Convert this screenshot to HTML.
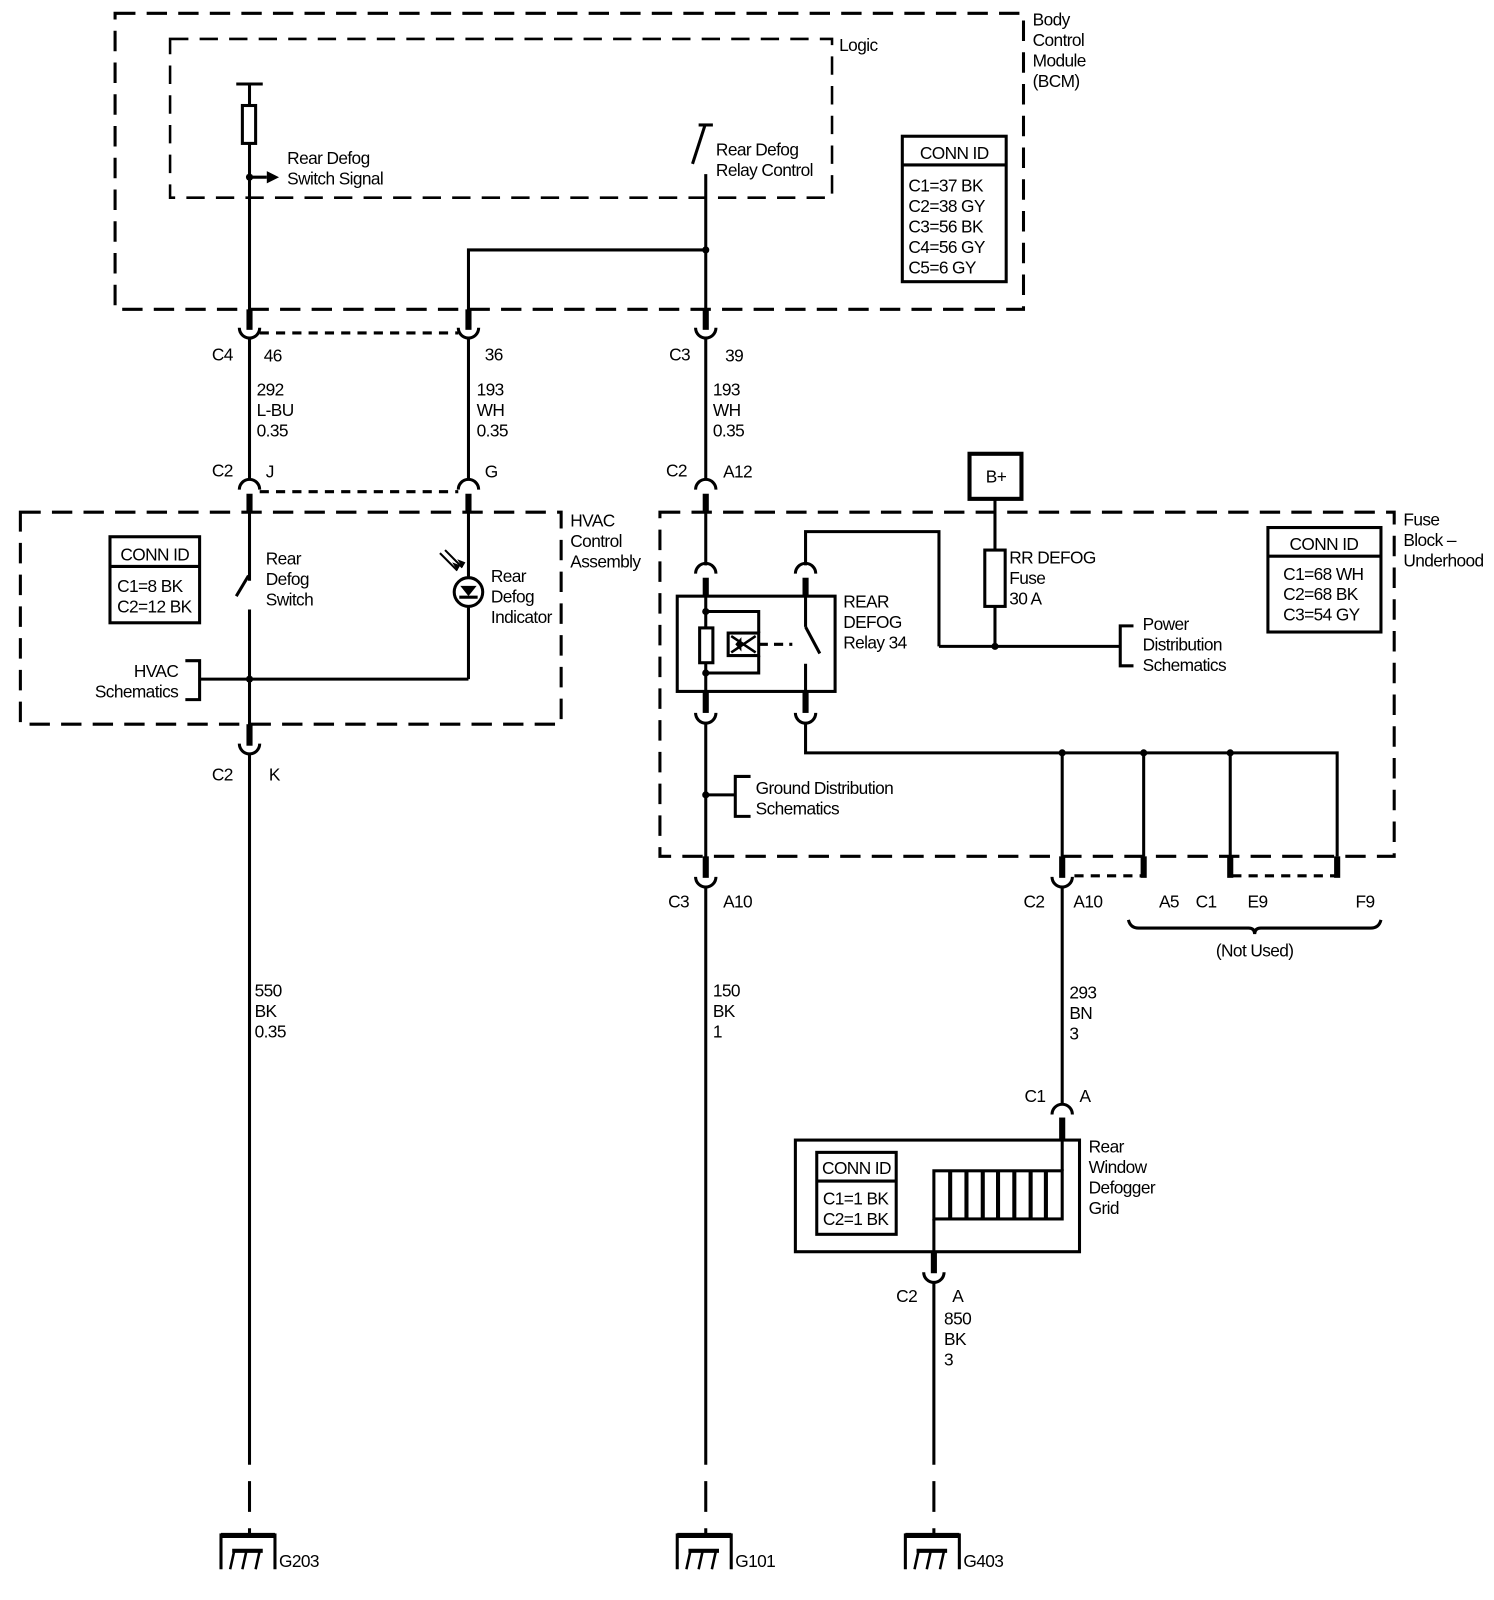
<!DOCTYPE html>
<html><head><meta charset="utf-8"><style>
html,body{margin:0;padding:0;background:#fff;}
svg{display:block;}
text{font-family:"Liberation Sans",sans-serif;font-size:17px;fill:#000;letter-spacing:-0.6px;}
</style></head><body>
<svg width="1494" height="1600" viewBox="0 0 1467 1562" preserveAspectRatio="none" xmlns="http://www.w3.org/2000/svg">
<g fill="none" stroke="#000" stroke-width="3">
<!-- dashed boxes -->
<rect x="113" y="13" width="892" height="289" stroke-dasharray="20,11"/>
<rect x="167" y="38" width="650" height="155" stroke-width="2.5" stroke-dasharray="18,11"/>
<rect x="20" y="500" width="531" height="207" stroke-dasharray="20,11"/>
<rect x="648" y="500" width="721" height="336" stroke-dasharray="20,11"/>
<!-- BCM conn id -->
<rect x="886" y="133" width="102" height="142"/>
<line x1="886" y1="161" x2="988" y2="161"/>
<!-- left signal wire -->
<line x1="232" y1="82" x2="258" y2="82"/>
<line x1="245" y1="82" x2="245" y2="103"/>
<rect x="238" y="103" width="13" height="37"/>
<line x1="245" y1="140" x2="245" y2="306"/>
<line x1="245" y1="173" x2="262" y2="173"/>
<!-- relay control -->
<line x1="686" y1="122" x2="700" y2="122"/>
<line x1="680" y1="160" x2="692" y2="123"/>
<line x1="693" y1="170" x2="693" y2="306"/>
<polyline points="693,244 460,244 460,306"/>
<!-- heavy stubs into top connectors -->
<line x1="245" y1="302" x2="245" y2="322" stroke-width="6"/>
<line x1="460" y1="302" x2="460" y2="322" stroke-width="6"/>
<line x1="693" y1="302" x2="693" y2="322" stroke-width="6"/>
<path d="M235,320 A10,10 0 0 0 255,320"/>
<path d="M450,320 A10,10 0 0 0 470,320"/>
<path d="M683,320 A10,10 0 0 0 703,320"/>
<line x1="255" y1="325" x2="450" y2="325" stroke-dasharray="9,7"/>
<line x1="245" y1="330" x2="245" y2="468"/>
<line x1="460" y1="330" x2="460" y2="468"/>
<line x1="693" y1="330" x2="693" y2="468"/>
<!-- C2 caps -->
<path d="M235,478 A10,10 0 0 1 255,478"/>
<path d="M450,478 A10,10 0 0 1 470,478"/>
<path d="M683,478 A10,10 0 0 1 703,478"/>
<line x1="255" y1="480" x2="450" y2="480" stroke-dasharray="9,7"/>
<line x1="245" y1="482" x2="245" y2="500" stroke-width="6"/>
<line x1="460" y1="482" x2="460" y2="500" stroke-width="6"/>
<line x1="693" y1="482" x2="693" y2="500" stroke-width="6"/>
<!-- HVAC -->
<rect x="108" y="524" width="88" height="84"/>
<line x1="108" y1="553" x2="196" y2="553"/>
<line x1="245" y1="500" x2="245" y2="567"/>
<line x1="232" y1="582" x2="244" y2="562"/>
<line x1="245" y1="595" x2="245" y2="712"/>
<line x1="196" y1="663" x2="460" y2="663"/>
<polyline points="182,645 196,645 196,683 182,683"/>
<line x1="460" y1="500" x2="460" y2="663"/>
<circle cx="460" cy="578" r="14" fill="#fff"/>
<line x1="451" y1="583" x2="469" y2="583"/>
<line x1="432" y1="540" x2="449" y2="557" stroke-width="2"/>
<line x1="437" y1="537" x2="454" y2="554" stroke-width="2"/>
<line x1="245" y1="707" x2="245" y2="728" stroke-width="6"/>
<path d="M235,726 A10,10 0 0 0 255,726"/>
<line x1="245" y1="736" x2="245" y2="1400"/>
<line x1="245" y1="1400" x2="245" y2="1497" stroke-dasharray="30,16"/>
<!-- fuse block -->
<rect x="1245" y="515" width="111" height="102"/>
<line x1="1245" y1="543" x2="1356" y2="543"/>
<rect x="952" y="443" width="51" height="44" stroke-width="4"/>
<line x1="977" y1="487" x2="977" y2="537"/>
<rect x="967" y="537" width="20" height="55"/>
<line x1="977" y1="592" x2="977" y2="631"/>
<line x1="922" y1="631" x2="1100" y2="631"/>
<polyline points="1113,611 1100,611 1100,650 1113,650"/>
<polyline points="922,631 922,519 791,519 791,552"/>
<line x1="693" y1="500" x2="693" y2="552"/>
<path d="M683,560 A10,10 0 0 1 703,560"/>
<path d="M781,560 A10,10 0 0 1 801,560"/>
<line x1="693" y1="564" x2="693" y2="582" stroke-width="6"/>
<line x1="791" y1="564" x2="791" y2="582" stroke-width="6"/>
<rect x="665" y="582" width="155" height="93"/>
<line x1="693" y1="582" x2="693" y2="675"/>
<rect x="687" y="613" width="13" height="34" fill="#fff"/>
<polyline points="693,597 745,597 745,618"/>
<polyline points="693,657 745,657 745,640"/>
<rect x="715" y="618" width="30" height="22"/>
<line x1="718" y1="621" x2="742" y2="637" stroke-width="2.5"/>
<line x1="718" y1="637" x2="742" y2="621" stroke-width="2.5"/>
<line x1="745" y1="629" x2="778" y2="629" stroke-dasharray="9,6"/>
<line x1="791" y1="582" x2="791" y2="612"/>
<line x1="791" y1="612" x2="805" y2="638"/>
<line x1="791" y1="648" x2="791" y2="675"/>
<line x1="693" y1="675" x2="693" y2="696" stroke-width="6"/>
<line x1="791" y1="675" x2="791" y2="696" stroke-width="6"/>
<path d="M683,696 A10,10 0 0 0 703,696"/>
<path d="M781,696 A10,10 0 0 0 801,696"/>
<line x1="693" y1="706" x2="693" y2="855"/>
<polyline points="791,706 791,735 1313,735 1313,836"/>
<line x1="693" y1="776" x2="722" y2="776"/>
<polyline points="737,758 722,758 722,797 737,797"/>
<line x1="1043" y1="735" x2="1043" y2="836"/>
<line x1="1123" y1="735" x2="1123" y2="836"/>
<line x1="1208" y1="735" x2="1208" y2="836"/>
<line x1="693" y1="836" x2="693" y2="857" stroke-width="6"/>
<line x1="1043" y1="836" x2="1043" y2="857" stroke-width="6"/>
<line x1="1123" y1="836" x2="1123" y2="857" stroke-width="6"/>
<line x1="1208" y1="836" x2="1208" y2="857" stroke-width="6"/>
<line x1="1313" y1="836" x2="1313" y2="857" stroke-width="6"/>
<path d="M683,856 A10,10 0 0 0 703,856"/>
<path d="M1033,856 A10,10 0 0 0 1053,856"/>
<line x1="1055" y1="855" x2="1123" y2="855" stroke-dasharray="9,7"/>
<line x1="1210" y1="855" x2="1313" y2="855" stroke-dasharray="9,7"/>
<line x1="693" y1="866" x2="693" y2="1400"/>
<line x1="693" y1="1400" x2="693" y2="1497" stroke-dasharray="30,16"/>
<line x1="1043" y1="866" x2="1043" y2="1078"/>
<path d="M1108,898 Q1110,906 1118,906 L1226,906 Q1232,906 1232,912 Q1232,906 1238,906 L1346,906 Q1354,906 1356,898"/>
<!-- defogger grid -->
<path d="M1033,1088 A10,10 0 0 1 1053,1088"/>
<line x1="1043" y1="1091" x2="1043" y2="1113" stroke-width="6"/>
<rect x="781" y="1113" width="279" height="109"/>
<rect x="802" y="1125" width="78" height="80"/>
<line x1="802" y1="1153" x2="880" y2="1153"/>
<line x1="1043" y1="1113" x2="1043" y2="1143"/>
<rect x="917" y="1143" width="126" height="47"/>
<g stroke-width="4">
<line x1="933" y1="1143" x2="933" y2="1190"/><line x1="949" y1="1143" x2="949" y2="1190"/>
<line x1="965" y1="1143" x2="965" y2="1190"/><line x1="980" y1="1143" x2="980" y2="1190"/>
<line x1="996" y1="1143" x2="996" y2="1190"/><line x1="1012" y1="1143" x2="1012" y2="1190"/>
<line x1="1027" y1="1143" x2="1027" y2="1190"/>
</g>
<line x1="917" y1="1190" x2="917" y2="1222"/>
<line x1="917" y1="1222" x2="917" y2="1243" stroke-width="6"/>
<path d="M907,1242 A10,10 0 0 0 927,1242"/>
<line x1="917" y1="1252" x2="917" y2="1400"/>
<line x1="917" y1="1400" x2="917" y2="1497" stroke-dasharray="30,16"/>
<!-- grounds -->
<g id="gnd">
<line x1="217" y1="1499" x2="270" y2="1499" stroke-width="5"/>
<line x1="217" y1="1497" x2="217" y2="1532"/>
<line x1="270" y1="1497" x2="270" y2="1532"/>
<line x1="228" y1="1514" x2="258" y2="1514" stroke-width="4"/>
<line x1="230" y1="1514" x2="226" y2="1532" stroke-width="2.5"/>
<line x1="242" y1="1514" x2="238" y2="1532" stroke-width="2.5"/>
<line x1="255" y1="1514" x2="251" y2="1532" stroke-width="2.5"/>
</g>
<use href="#gnd" transform="translate(448,0)"/>
<use href="#gnd" transform="translate(672,0)"/>
</g>
<g fill="#000">
<polygon points="262,167 274,173 262,179"/>
<circle cx="245" cy="173" r="3.5"/>
<circle cx="693" cy="244" r="3.5"/>
<circle cx="245" cy="663" r="3.5"/>
<polygon points="452,572 468,572 460,582"/>
<polygon points="449,557 444,549 452,552"/>
<polygon points="454,554 449,546 457,549"/>
<circle cx="977" cy="631" r="3.5"/>
<circle cx="693" cy="597" r="3.5"/><circle cx="693" cy="657" r="3.5"/>
<circle cx="693" cy="776" r="3.5"/>
<circle cx="1043" cy="735" r="3.5"/><circle cx="1123" cy="735" r="3.5"/><circle cx="1208" cy="735" r="3.5"/>
<polygon points="722,629 728,622 728,636"/>
</g>
<!-- text -->
<text x="824" y="50">Logic</text>
<text x="1014" y="25">Body</text><text x="1014" y="45">Control</text><text x="1014" y="65">Module</text><text x="1014" y="85">(BCM)</text>
<text x="937" y="155" text-anchor="middle">CONN ID</text>
<text x="892" y="187">C1=37 BK</text><text x="892" y="207">C2=38 GY</text><text x="892" y="227">C3=56 BK</text><text x="892" y="247">C4=56 GY</text><text x="892" y="267">C5=6 GY</text>
<text x="282" y="160">Rear Defog</text><text x="282" y="180">Switch Signal</text>
<text x="703" y="152">Rear Defog</text><text x="703" y="172">Relay Control</text>
<text x="208" y="352">C4</text><text x="259" y="353">46</text><text x="476" y="352">36</text>
<text x="657" y="352">C3</text><text x="712" y="353">39</text>
<text x="252" y="386">292</text><text x="252" y="406">L-BU</text><text x="252" y="426">0.35</text>
<text x="468" y="386">193</text><text x="468" y="406">WH</text><text x="468" y="426">0.35</text>
<text x="700" y="386">193</text><text x="700" y="406">WH</text><text x="700" y="426">0.35</text>
<text x="208" y="465">C2</text><text x="261" y="466">J</text><text x="476" y="466">G</text>
<text x="654" y="465">C2</text><text x="710" y="466">A12</text>
<text x="560" y="514">HVAC</text><text x="560" y="534">Control</text><text x="560" y="554">Assembly</text>
<text x="152" y="547" text-anchor="middle">CONN ID</text>
<text x="115" y="578">C1=8 BK</text><text x="115" y="598">C2=12 BK</text>
<text x="261" y="551">Rear</text><text x="261" y="571">Defog</text><text x="261" y="591">Switch</text>
<text x="482" y="568">Rear</text><text x="482" y="588">Defog</text><text x="482" y="608">Indicator</text>
<text x="175" y="661" text-anchor="end">HVAC</text><text x="175" y="681" text-anchor="end">Schematics</text>
<text x="208" y="762">C2</text><text x="264" y="762">K</text>
<text x="250" y="973">550</text><text x="250" y="993">BK</text><text x="250" y="1013">0.35</text>
<text x="978" y="471" text-anchor="middle">B+</text>
<text x="1378" y="513">Fuse</text><text x="1378" y="533">Block –</text><text x="1378" y="553">Underhood</text>
<text x="1300" y="537" text-anchor="middle">CONN ID</text>
<text x="1260" y="566">C1=68 WH</text><text x="1260" y="586">C2=68 BK</text><text x="1260" y="606">C3=54 GY</text>
<text x="991" y="550">RR DEFOG</text><text x="991" y="570">Fuse</text><text x="991" y="590">30 A</text>
<text x="828" y="593">REAR</text><text x="828" y="613">DEFOG</text><text x="828" y="633">Relay 34</text>
<text x="1122" y="615">Power</text><text x="1122" y="635">Distribution</text><text x="1122" y="655">Schematics</text>
<text x="742" y="775">Ground Distribution</text><text x="742" y="795">Schematics</text>
<text x="656" y="886">C3</text><text x="710" y="886">A10</text>
<text x="1005" y="886">C2</text><text x="1054" y="886">A10</text>
<text x="1138" y="886">A5</text><text x="1174" y="886">C1</text><text x="1225" y="886">E9</text><text x="1331" y="886">F9</text>
<text x="1232" y="934" text-anchor="middle">(Not Used)</text>
<text x="700" y="973">150</text><text x="700" y="993">BK</text><text x="700" y="1013">1</text>
<text x="1050" y="975">293</text><text x="1050" y="995">BN</text><text x="1050" y="1015">3</text>
<text x="1006" y="1076">C1</text><text x="1060" y="1076">A</text>
<text x="1069" y="1125">Rear</text><text x="1069" y="1145">Window</text><text x="1069" y="1165">Defogger</text><text x="1069" y="1185">Grid</text>
<text x="841" y="1146" text-anchor="middle">CONN ID</text>
<text x="808" y="1176">C1=1 BK</text><text x="808" y="1196">C2=1 BK</text>
<text x="880" y="1271">C2</text><text x="935" y="1271">A</text>
<text x="927" y="1293">850</text><text x="927" y="1313">BK</text><text x="927" y="1333">3</text>
<text x="274" y="1530">G203</text><text x="722" y="1530">G101</text><text x="946" y="1530">G403</text>
</svg>
</body></html>
